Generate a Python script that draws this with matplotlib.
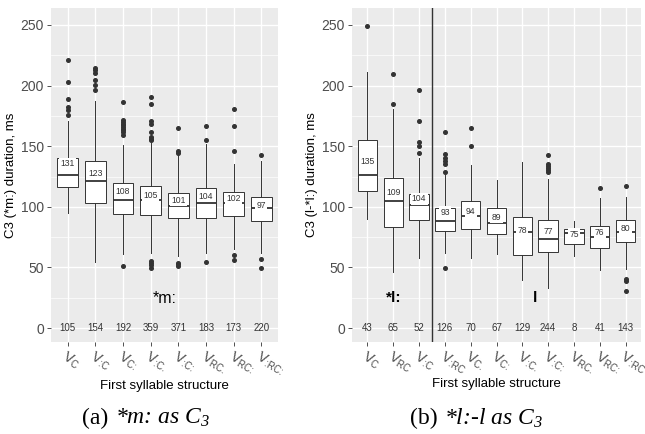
import matplotlib
matplotlib.use("Agg")
import matplotlib.pyplot as plt
from matplotlib.ticker import MultipleLocator

plt.rcParams['font.family'] = ['Liberation Sans', 'DejaVu Sans']
plt.rcParams['mathtext.default'] = 'regular'

# --- panel (a): *m: as C3 ---
labels_m = ["VC", "VːC", "VCː", "VːC.", "VːCː", "VRC.", "VRCː", "VːRCː"]
q1_m = [116, 103, 94, 93, 90.6, 91, 92.5, 88]
med_m = [126, 121, 106, 106, 100.7, 103, 103, 99]
q3_m = [140, 138, 119.7, 117.5, 111.7, 115.8, 112.5, 108.4]
lo_m = [94.5, 54.5, 61, 62, 59.5, 61.5, 65, 62]
hi_m = [170.7, 187, 151, 153, 143, 151.6, 135.7, 138]
mean_m = [131, 123, 108, 105, 101, 104, 102, 97]
n_m = [105, 154, 192, 359, 371, 183, 173, 220]
fliers_m = [
    [220.8, 202.9, 189, 182.5, 179.8, 175.6],
    [214.7, 212.8, 210.6, 205, 200.7, 196],
    [186.6, 171.5, 170, 168.7, 167.4, 166, 164.6, 163.2, 161.8, 159, 51.2],
    [190.5, 184.7, 170.9, 168.7, 161.8, 157.7, 156.3, 155, 55.4, 53.7, 52, 49.9],
    [165.2, 145.9, 144.6, 54, 52.6, 51.2],
    [166.5, 155, 54.5],
    [181, 166.5, 146, 60.3, 56],
    [142.6, 57.3, 49.9],
]

# --- panel (b): *l:-l as C3 ---
labels_l = ["VC", "VRC", "VːC", "VːRC", "VC.", "VCː", "VːC.", "VːCː", "VRC.", "VRCː", "VːRC"]
q1_l = [112.7, 83, 89, 80.2, 81.5, 77.4, 60, 63.1, 69.1, 65.8, 70.8]
med_l = [126, 105, 101.7, 88.4, 92.3, 87, 79.6, 73.8, 78.8, 75.2, 79.6]
q3_l = [155.4, 124, 110.8, 99.2, 104.7, 99.2, 92, 89.3, 82.1, 84, 89.3]
lo_l = [89.8, 46.6, 58.1, 62.3, 58.1, 61.4, 39.4, 33.3, 59.5, 47.7, 48.5]
hi_l = [211, 181, 140.5, 126.5, 134.5, 121.8, 136.7, 122.6, 87.9, 107.5, 108]
mean_l = [135, 109, 104, 93, 94, 89, 78, 77, 75, 76, 80]
n_l = [43, 65, 52, 126, 70, 67, 129, 244, 8, 41, 143]
fliers_l = [
    [249.4],
    [209.7, 184.7],
    [196, 170.9, 153.8, 150.5, 144.8],
    [161.5, 143.6, 140.5, 137.8, 135, 129, 49.9],
    [165.4, 150.2],
    [],
    [],
    [142.5, 135.7, 133.8, 132.1, 130.2, 128.8],
    [],
    [115.2],
    [117.4, 40.2, 38.8, 30.6],
]

GREY = '#4D4D4D'
DARK = '#333333'


def draw_panel(ax, labels, q1, med, q3, lo, hi, means, counts, fliers,
               ylabel, mean_off):
    stats = []
    for i in range(len(labels)):
        stats.append(dict(q1=q1[i], med=med[i], q3=q3[i], whislo=lo[i],
                          whishi=hi[i], fliers=fliers[i], label=labels[i]))
    pos = list(range(1, len(labels) + 1))
    ax.bxp(stats, positions=pos, widths=0.75, patch_artist=True,
           showcaps=False, showfliers=True,
           boxprops=dict(facecolor='white', edgecolor=DARK, linewidth=0.7),
           medianprops=dict(color=DARK, linewidth=1.3),
           whiskerprops=dict(color=DARK, linewidth=0.7),
           flierprops=dict(marker='o', markersize=2.6, markerfacecolor=DARK,
                           markeredgecolor=DARK))
    for p, m in zip(pos, means):
        ax.text(p, m + mean_off, str(m), ha='center', va='center',
                fontsize=6.2, color=DARK,
                bbox=dict(boxstyle='square,pad=0.15', facecolor='white',
                          edgecolor='none'))
    for p, c in zip(pos, counts):
        ax.text(p, 0, str(c), ha='center', va='center', fontsize=7,
                color=DARK)

    ax.set_facecolor('#EBEBEB')
    for s in ax.spines.values():
        s.set_visible(False)
    ax.set_xlim(0.4, len(labels) + 0.6)
    ax.set_ylim(-11.5, 264)
    ax.set_yticks([0, 50, 100, 150, 200, 250])
    ax.yaxis.set_minor_locator(MultipleLocator(25))
    ax.grid(True, which='major', color='white', linewidth=1.0)
    ax.grid(True, which='minor', axis='y', color='white', linewidth=0.5)
    ax.set_axisbelow(True)
    ax.tick_params(axis='both', which='major', length=3, width=0.6,
                   color=DARK, labelcolor=GREY, labelsize=10, pad=2)
    ax.tick_params(axis='y', which='minor', length=0)
    ax.set_xticks(pos)
    ax.set_xticklabels(['V$_{%s}$' % lab[1:] for lab in labels],
                       rotation=-30, ha='left', rotation_mode='anchor',
                       fontsize=10)
    ax.set_xlabel('First syllable structure', fontsize=9.5, color='black',
                  labelpad=1)
    ax.set_ylabel(ylabel, fontsize=9.5, color='black', labelpad=3)


fig = plt.figure(figsize=(6.45, 4.34), dpi=100)
ax1 = fig.add_axes([51 / 645, 1 - 342 / 434, 227 / 645, 334 / 434])
ax2 = fig.add_axes([352 / 645, 1 - 342 / 434, 289 / 645, 334 / 434])

draw_panel(ax1, labels_m, q1_m, med_m, q3_m, lo_m, hi_m, mean_m, n_m,
           fliers_m, 'C3 (*m:) duration, ms', 4.5)
draw_panel(ax2, labels_l, q1_l, med_l, q3_l, lo_l, hi_l, mean_l, n_l,
           fliers_l, 'C3 (l-*l:) duration, ms', 2.5)

ax1.text(4.5, 24, '*m:', ha='center', va='center', fontsize=11.5,
         color='black')
ax2.text(2, 25, '*l:', ha='center', va='center', fontsize=11,
         color='black', fontweight='bold')
ax2.text(7.5, 25, 'l', ha='center', va='center', fontsize=11,
         color='black', fontweight='bold')
ax2.axvline(3.5, color=DARK, linewidth=1.0)

# captions below the panels
cap_y = 1 - 418 / 434
fig.text(108 / 645, cap_y, '(a)', ha='right', va='center',
         fontsize=17, family='Liberation Serif')
fig.text(115 / 645, cap_y, '*m: as C$_3$', ha='left', va='center',
         fontsize=17, family='Liberation Serif', style='italic')
fig.text(438 / 645, cap_y, '(b)', ha='right', va='center',
         fontsize=17, family='Liberation Serif')
fig.text(444 / 645, cap_y, '*l:-l as C$_3$', ha='left', va='center',
         fontsize=17, family='Liberation Serif', style='italic')

fig.savefig('out.png', dpi=100)
